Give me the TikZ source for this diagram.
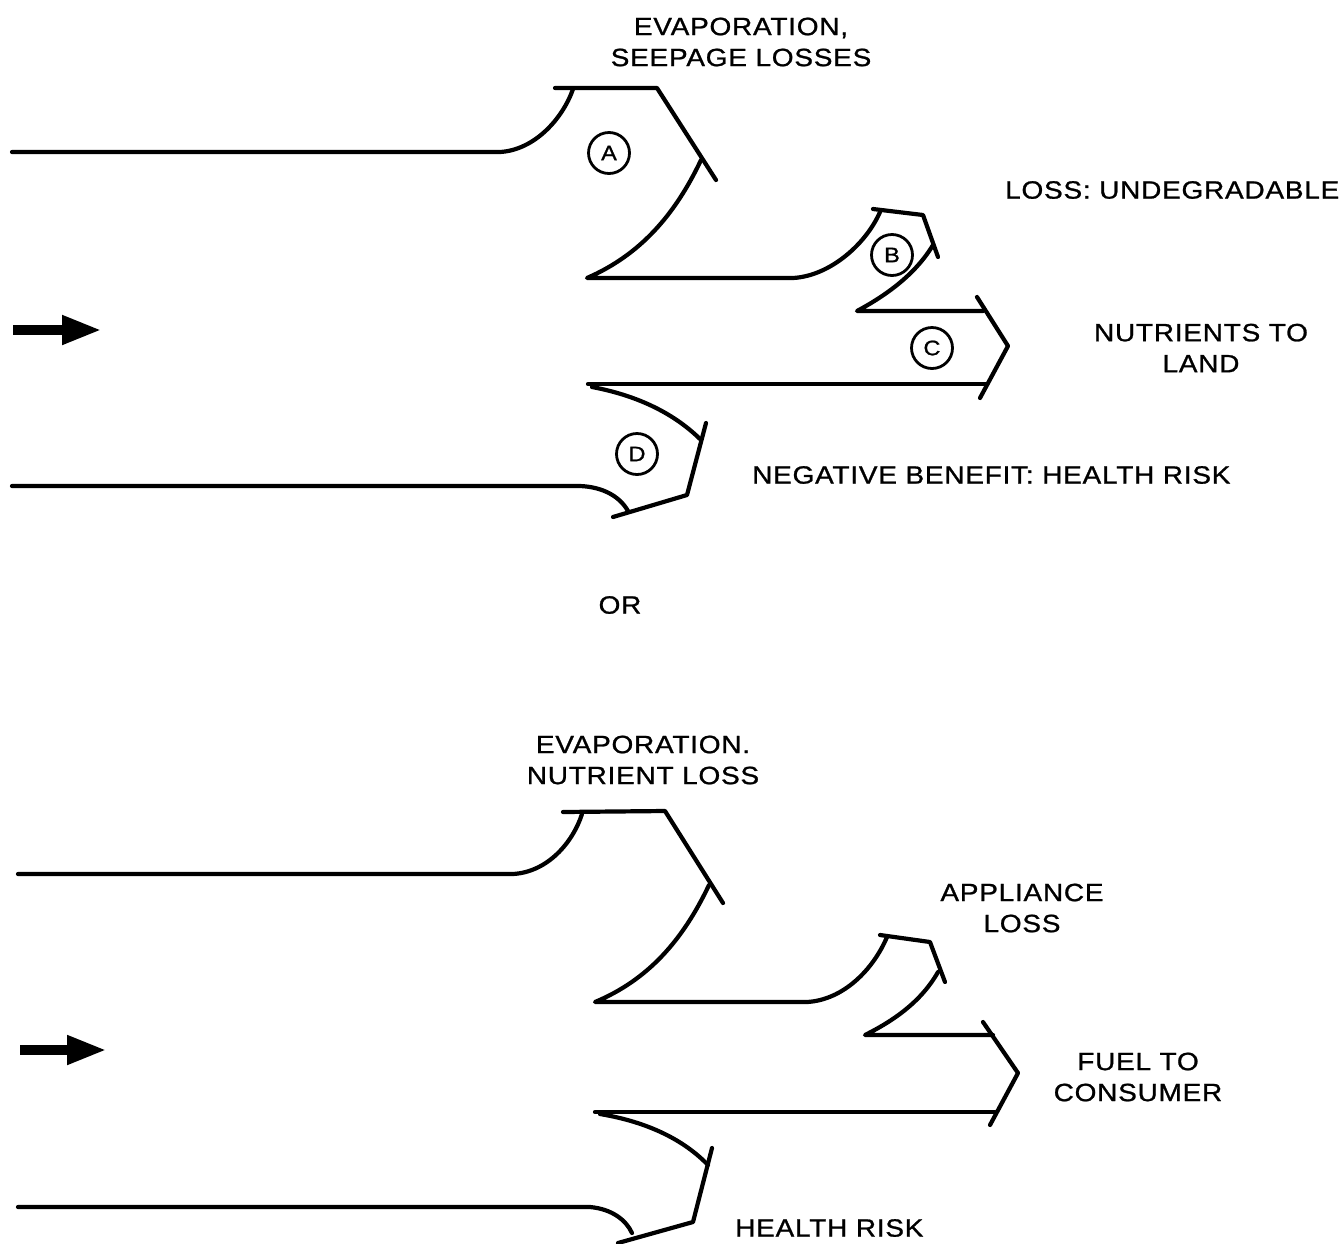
\documentclass[tikz,border=0pt]{standalone}
\usepackage{fontspec}
\setmainfont{Liberation Sans}
\newfontfamily\lblfont[LetterSpace=3,FakeStretch=1.12,FakeBold=1]{Liberation Sans}
\usetikzlibrary{arrows.meta}
\begin{document}
\begin{tikzpicture}[x=1pt,y=-1pt,
  flow/.style={line width=4.2pt,line cap=round,line join=round},
  lbl/.style={font=\lblfont\fontsize{25}{31}\selectfont,align=center,inner sep=0pt},
  tag/.style={circle,draw,line width=2.8pt,minimum size=41pt,inner sep=0pt,font=\lblfont\fontsize{21}{22}\selectfont},
  bigarrow/.style={line width=10pt,-{Triangle[length=40pt,width=27pt]}}]
\useasboundingbox (0,0) rectangle (1339,1243);
% ---------- top diagram ----------
\draw[flow] (12,152) -- (500,152) .. controls (535,150) and (563,118) .. (573,89);
\draw[flow] (555,88) -- (657,88) -- (716,180);
\draw[flow] (701,160) .. controls (675,215) and (640,255) .. (587,278) -- (793,278)
  .. controls (830,276) and (866,244) .. (880,212);
\draw[flow] (873,209) -- (923,215) -- (938,257);
\draw[flow] (933,245) .. controls (915,275) and (885,296) .. (857,311) -- (983,311);
\draw[flow] (977,297) -- (1008,346) -- (980,398);
\draw[flow] (588,384) -- (987,384);
\draw[flow] (592,387) .. controls (640,396) and (676,415) .. (701,440);
\draw[flow] (706,423) -- (687,495) -- (613,517);
\draw[flow] (12,486) -- (580,486) .. controls (604,487) and (620,497) .. (628,511);
\node[tag] (A) at (609,153) {A};
\node[tag] (B) at (892,255) {B};
\node[tag] (C) at (932,348) {C};
\node[tag] (D) at (637,454) {D};
\coordinate (a1) at (13,330);
\coordinate (a2) at (102,330);
\draw[bigarrow] (a1) -- (a2);
\node[lbl] (t1) at (741,42) {EVAPORATION,\\SEEPAGE LOSSES};
\node[lbl,anchor=west] (t2) at (1005,190) {LOSS: UNDEGRADABLE};
\node[lbl] (t3) at (1201,348) {NUTRIENTS TO\\LAND};
\node[lbl,anchor=west] (t4) at (752,475) {NEGATIVE BENEFIT: HEALTH RISK};
\node[lbl] (or) at (620,605) {OR};
% ---------- bottom diagram ----------
\draw[flow] (18,874) -- (513,874) .. controls (548,872) and (573,842) .. (582,814);
\draw[flow] (563,812) -- (665,811) -- (723,903);
\draw[flow] (709,885) .. controls (683,940) and (648,980) .. (595,1002) -- (807,1002)
  .. controls (843,1000) and (873,970) .. (887,937);
\draw[flow] (880,935) -- (930,942) -- (945,982);
\draw[flow] (938,972) .. controls (921,1002) and (893,1021) .. (865,1035) -- (993,1035);
\draw[flow] (983,1022) -- (1018,1073) -- (990,1125);
\draw[flow] (595,1112) -- (995,1112);
\draw[flow] (600,1114) .. controls (648,1122) and (684,1140) .. (708,1165);
\draw[flow] (712,1148) -- (693,1222) -- (618,1243);
\draw[flow] (18,1207) -- (590,1207) .. controls (612,1209) and (626,1220) .. (632,1233);
\coordinate (b1) at (20,1050);
\coordinate (b2) at (107,1050);
\draw[bigarrow] (b1) -- (b2);
\node[lbl] (u1) at (643,760) {EVAPORATION.\\NUTRIENT LOSS};
\node[lbl] (u2) at (1022,908) {APPLIANCE\\LOSS};
\node[lbl] (u3) at (1138,1077) {FUEL TO\\CONSUMER};
\node[lbl,anchor=west] (u4) at (735,1228) {HEALTH RISK};
\end{tikzpicture}
\end{document}
